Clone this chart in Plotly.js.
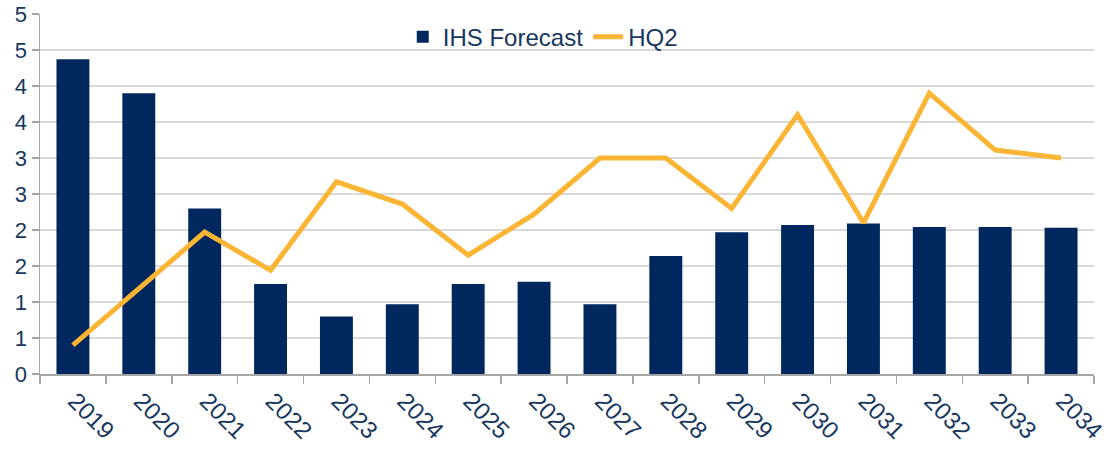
<!DOCTYPE html>
<html>
<head>
<meta charset="utf-8">
<script src="https://cdn.plot.ly/plotly-3.0.1.min.js"></script>
<style>html,body{margin:0;padding:0;background:#fff;}#chart{width:1115px;height:449px;}</style>
</head>
<body>
<div id="chart"></div>
<script>
const years = ["2019","2020","2021","2022","2023","2024","2025","2026","2027","2028","2029","2030","2031","2032","2033","2034"];
const ihsForecast = [4.37, 3.90, 2.30, 1.25, 0.80, 0.97, 1.25, 1.28, 0.97, 1.64, 1.97, 2.07, 2.09, 2.04, 2.04, 2.03];
const hq2 = [0.40, 1.18, 1.97, 1.44, 2.67, 2.36, 1.65, 2.22, 3.00, 3.00, 2.30, 3.60, 2.10, 3.90, 3.11, 3.00];
const yTickVals = [0, 0.5, 1, 1.5, 2, 2.5, 3, 3.5, 4, 4.5, 5];
const yTickText = ["0", "1", "1", "2", "2", "3", "3", "4", "4", "5", "5"];

const textColor = "#17375E";
const traces = [
  {type: "bar", name: "IHS Forecast", x: years, y: ihsForecast, marker: {color: "#00285E"}},
  {type: "scatter", mode: "lines", name: "HQ2", x: years, y: hq2, line: {color: "#FBB535", width: 5}}
];
const layout = {
  width: 1115, height: 449,
  margin: {l: 40, r: 21, t: 14, b: 75},
  paper_bgcolor: "#ffffff", plot_bgcolor: "#ffffff",
  font: {family: "Liberation Sans, Arial, sans-serif", color: textColor, size: 22},
  bargap: 0.5,
  showlegend: true,
  legend: {orientation: "h", x: 0.477, xanchor: "center", y: 0.936, yanchor: "middle",
           font: {size: 24, color: textColor}, bgcolor: "rgba(0,0,0,0)", traceorder: "normal"},
  xaxis: {type: "category", tickangle: 45, tickson: "boundaries", ticks: "outside", ticklen: 8,
          tickcolor: "#A6A6A6", tickwidth: 1.5, showline: true, linecolor: "#A6A6A6", linewidth: 1.5,
          showgrid: false, ticklabelshift: 2, ticklabelstandoff: 2,
          tickfont: {size: 24, color: textColor}},
  yaxis: {range: [0, 5], tickvals: yTickVals, ticktext: yTickText, ticks: "outside", ticklen: 7,
          tickcolor: "#A6A6A6", tickwidth: 1.5, showline: true, linecolor: "#A6A6A6", linewidth: 1.5,
          showgrid: true, gridcolor: "#D9D9D9", gridwidth: 1.5, zeroline: false,
          tickfont: {size: 22, color: textColor}}
};
Plotly.newPlot("chart", traces, layout, {displayModeBar: false, staticPlot: true});
</script>
</body>
</html>
